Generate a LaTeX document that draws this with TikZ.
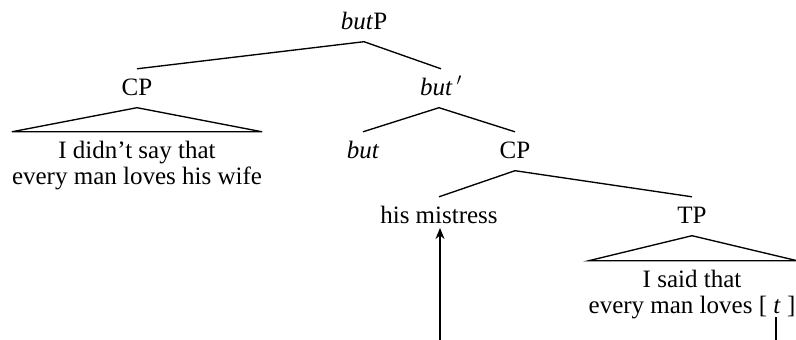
\documentclass[tikz,border=0pt]{standalone}
\usepackage{fontspec}
\setmainfont{Liberation Serif}
\usetikzlibrary{arrows.meta}
\tikzset{
  lab/.style={anchor=base, inner xsep=0pt, inner ysep=12.5pt, text height=13.5pt, text depth=0pt, font=\fontsize{25}{26}\selectfont},
  edge/.style={line width=1.35pt},
  arr/.style={line width=1.35pt, -{Stealth[length=11pt,width=9pt,inset=3.5pt]}}
}
\begin{document}
\begin{tikzpicture}[x=1pt,y=-1pt]
\useasboundingbox (0,0) rectangle (796,340);
% labels
\node[lab] (butP) at (364,29) {\textit{but}P};
\node[lab] (CPa) at (137,95) {CP};
\node[lab] (butbar) at (441,95) {\textit{but}\,$'$};
\node[lab] (didnt1) at (137,158) {I didn’t say that};
\node[lab] (didnt2) at (137,184) {every man loves his wife};
\node[lab] (butn) at (363,158) {\textit{but}};
\node[lab] (CPb) at (515,158) {CP};
\node[lab] (mistress) at (439,223) {his mistress};
\node[lab] (TP) at (692,223) {TP};
\node[lab] (said1) at (692,287) {I said that};
\node[lab] (said2) at (692,313) {every man loves [ \textit{t} ]};
% branches
\draw[edge] (CPa.north) -- (butP.south) -- (butbar.north);
\draw[edge] (butn.north) -- ([xshift=-2pt]butbar.south) -- (CPb.north);
\draw[edge] (mistress.north) -- (CPb.south) -- (TP.north);
% triangles
\draw[edge] (CPa.south) -- (didnt2.west |- didnt1.north) -- (didnt2.east |- didnt1.north) -- cycle;
\draw[edge] (TP.south) -- (said2.west |- said1.north) -- ([xshift=2pt]said2.east |- said1.north) -- cycle;
% movement
\coordinate (arrowfoot) at (440,340);
\coordinate (tfoot) at (776,340);
\coordinate (ttop) at (776,317);
\draw[arr, shorten >=5pt] (arrowfoot) -- (arrowfoot |- mistress.base);
\draw[edge] (tfoot) -- (ttop);
\end{tikzpicture}
\end{document}
